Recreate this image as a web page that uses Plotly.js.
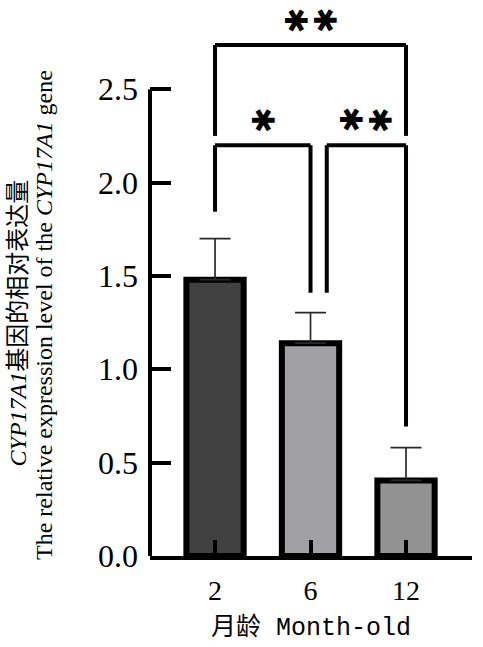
<!DOCTYPE html>
<html>
<head>
<meta charset="utf-8">
<script src="https://cdn.plot.ly/plotly-3.0.1.min.js"></script>
<style>html,body{margin:0;padding:0;background:#fff;}#chart{width:483px;height:647px;}</style>
</head>
<body>
<div id="chart"></div>
<script>
// Data
var ageMonths = ['2', '6', '12'];
var expression = [1.48, 1.14, 0.405];
var errorUp = [0.22, 0.163, 0.175];
var barColors = ['#414141', '#a1a0a5', '#929292'];
var yTickVals = [0, 0.5, 1.0, 1.5, 2.0, 2.5];
var yTickText = ['0.0', '0.5', '1.0', '1.5', '2.0', '2.5'];
var yTitleLines = ['<i>CYP17A1</i>基因的相对表达量',
                   'The relative expression level of the <i>CYP17A1</i> gene'];
var xTitle = '<span style="font-family:Noto Sans CJK SC">月龄</span> Month-old';
var sigLabels = ['**', '*', '**'];   // 2 vs 12, 2 vs 6, 6 vs 12

var trace = {
  type: 'bar',
  x: ageMonths,
  y: expression,
  width: 0.6,
  marker: {color: barColors, line: {color: '#000', width: 6}},
  error_y: {
    type: 'data', symmetric: false, array: errorUp,
    arrayminus: [0, 0, 0], color: '#2a2a2a', thickness: 1.7, width: 15.5
  },
  hoverinfo: 'none'
};

var lw = 4;
function seg(x0, y0, x1, y1) {
  return {type: 'line', xref: 'x', yref: 'y', x0: x0, y0: y0, x1: x1, y1: y1,
          line: {color: '#000', width: lw}, layer: 'above'};
}
var shapes = [
  {type: 'line', xref: 'paper', yref: 'y', x0: 0, x1: 0, y0: 0, y1: 2.5,
   line: {color: '#000', width: 4}, layer: 'above'},
  seg(0, 2.25, 0, 2.737), seg(0, 2.737, 2.0, 2.737), seg(2.0, 2.737, 2.0, 2.25),
  seg(0, 1.844, 0, 2.2), seg(0, 2.2, 1.0, 2.2), seg(1.0, 2.2, 1.0, 1.41),
  seg(1.17, 1.41, 1.17, 2.2), seg(1.17, 2.2, 2.0, 2.2), seg(2.0, 2.2, 2.0, 0.693)
];

// star label placement: centre x, y and spacing (layout)
var starPlaces = [{x: 1.0, y: 2.867}, {x: 0.5, y: 2.334}, {x: 1.571, y: 2.334}];
var starStep = 0.305;
var annotations = [];
sigLabels.forEach(function (lab, i) {
  var n = lab.length;
  for (var k = 0; k < n; k++) {
    annotations.push({
      xref: 'x', yref: 'y', showarrow: false,
      x: starPlaces[i].x + (k - (n - 1) / 2) * starStep, y: starPlaces[i].y,
      text: '\u2731', textangle: 90,
      font: {family: 'DejaVu Sans', size: 31, color: '#000'},
      xanchor: 'center', yanchor: 'middle'
    });
  }
});

var serif = 'Liberation Serif, Times New Roman, Noto Sans CJK SC, serif';
var titleFont = {family: serif, size: 24, color: '#000'};
annotations.push({xref: 'paper', yref: 'y', x: (18 - 150) / 322, y: (556 - 323.5) / 186.7,
                  text: yTitleLines[0], textangle: -90, showarrow: false,
                  xanchor: 'center', yanchor: 'middle', font: titleFont});
annotations.push({xref: 'paper', yref: 'y', x: (44 - 150) / 322, y: (556 - 315) / 186.7,
                  text: yTitleLines[1], textangle: -90, showarrow: false,
                  xanchor: 'center', yanchor: 'middle', font: titleFont});

var layout = {
  width: 483, height: 647,
  margin: {l: 150, r: 11, t: 5, b: 91},
  paper_bgcolor: '#fff', plot_bgcolor: '#fff',
  showlegend: false,
  xaxis: {
    type: 'category',
    range: [-0.681, 2.691],
    showline: true, linecolor: '#000', linewidth: 4,
    ticks: 'inside', ticklen: 16, tickwidth: 4, tickcolor: '#000',
    tickfont: {family: serif, size: 28, color: '#000'},
    ticklabelstandoff: 6,
    showgrid: false, zeroline: false,
    title: {
      text: xTitle,
      font: {family: 'Liberation Mono, DejaVu Sans Mono, monospace', size: 25, color: '#000'},
      standoff: 6
    }
  },
  yaxis: {
    range: [0, 2.951],
    showline: false,
    tickvals: yTickVals, ticktext: yTickText,
    ticks: 'inside', ticklen: 21, tickwidth: 4, tickcolor: '#000',
    tickfont: {family: serif, size: 32, color: '#000'},
    ticklabelstandoff: 11,
    showgrid: false, zeroline: false
  },
  shapes: shapes,
  annotations: annotations
};

Plotly.newPlot('chart', [trace], layout, {displayModeBar: false, staticPlot: true});
</script>
</body>
</html>
